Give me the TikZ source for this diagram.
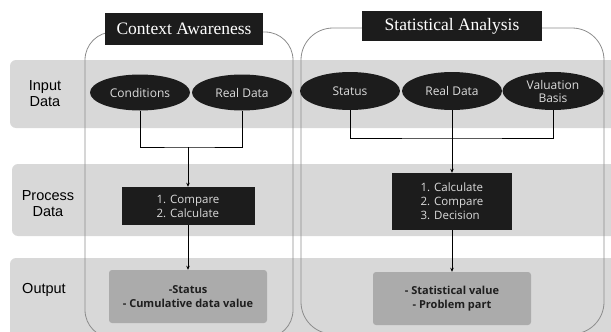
\documentclass[tikz,border=0pt]{standalone}
\usepackage{fontspec}
\setmainfont{Liberation Sans}
\newfontfamily\titlefont{Liberation Serif}
\newfontfamily\boxfont{Open Sans}
\usetikzlibrary{shapes.geometric,arrows.meta}
\definecolor{bandgray}{HTML}{D8D8D8}
\definecolor{darkfill}{HTML}{1C1C1C}
\definecolor{outfill}{HTML}{ABABAB}
\definecolor{linegray}{HTML}{8C8C8C}
\definecolor{ovaltext}{HTML}{DCDCDC}
\definecolor{outtext}{HTML}{1E1E1E}
\tikzset{
  band/.style={fill=bandgray, rounded corners=6pt},
  container/.style={draw=linegray, line width=0.8pt},
  titlebox/.style={fill=darkfill, text=white, font=\titlefont\fontsize{17.5}{19}\selectfont, inner sep=0pt},
  rowlabel/.style={align=center, text=black, font=\fontsize{14.5}{16}\selectfont},
  oval/.style={ellipse, fill=darkfill, text=ovaltext, inner sep=0pt, minimum width=100pt, minimum height=36pt, align=center, font=\boxfont\fontsize{12}{13}\selectfont},
  procbox/.style={fill=darkfill, text=ovaltext, inner sep=0pt, align=left, font=\boxfont\fontsize{11.5}{14}\selectfont},
  outbox/.style={fill=outfill, rounded corners=3pt, text=outtext, inner sep=0pt, align=center, font=\boxfont\bfseries\fontsize{11}{14}\selectfont},
  conn/.style={draw=black, line width=0.8pt},
  arrowconn/.style={conn, -{Stealth[length=4pt,width=3.5pt]}}
}
\begin{document}
\begin{tikzpicture}[x=1pt,y=-1pt]
\useasboundingbox (0,0) rectangle (611,332);
% bands
\fill[band] (10,60) rectangle (620,128);
\fill[band] (12,164) rectangle (620,236);
\fill[band] (10,258) rectangle (620,345);
% containers
\draw[container, rounded corners=28pt] (85,32) rectangle (293,338);
\draw[container, rounded corners=32pt] (301,28) rectangle (604,334);
% titles
\node[titlebox, minimum width=158pt, minimum height=32pt] (t1) at (184,29) {Context Awareness};
\node[titlebox, minimum width=180pt, minimum height=30pt] (t2) at (452,26) {Statistical Analysis};
% row labels
\node[rowlabel] (lin) at (45,94) {Input\\Data};
\node[rowlabel] (lpr) at (48,204) {Process\\Data};
\node[rowlabel] (lout) at (44,290) {Output};
% ovals
\node[oval] (c1) at (140,92.5) {Conditions};
\node[oval] (r1) at (242,92.5) {Real Data};
\node[oval, minimum height=38pt] (s2) at (350,91) {Status};
\node[oval, minimum height=38pt] (r2) at (452,91) {Real Data};
\node[oval, minimum height=38pt, minimum width=101pt] (v2) at (553,91) {Valuation\\Basis};
% process boxes
\node[procbox, minimum width=133pt, minimum height=38pt] (p1) at (188,206) {1. Compare\\2. Calculate};
\node[procbox, minimum width=120pt, minimum height=57pt] (p2) at (452,201.5) {1. Calculate\\2. Compare\\3. Decision};
% output boxes
\node[outbox, minimum width=158pt, minimum height=53pt] (o1) at (188,296.5) {-Status\\- Cumulative data value};
\node[outbox, minimum width=158pt, minimum height=53pt] (o2) at (452,298.5) {- Statistical value\\- Problem part};
% connectors
\coordinate (j1) at (188,147);
\coordinate (j2) at (452,138);
\draw[conn] (c1.south) |- (j1) -| (r1.south);
\draw[arrowconn] (j1) -- (p1.north);
\draw[arrowconn] (p1.south) -- (o1.north);
\draw[conn] (s2.south) |- (j2) -| (v2.south);
\draw[arrowconn] (r2.south) -- (p2.north);
\draw[arrowconn] (p2.south) -- (o2.north);
\end{tikzpicture}
\end{document}
